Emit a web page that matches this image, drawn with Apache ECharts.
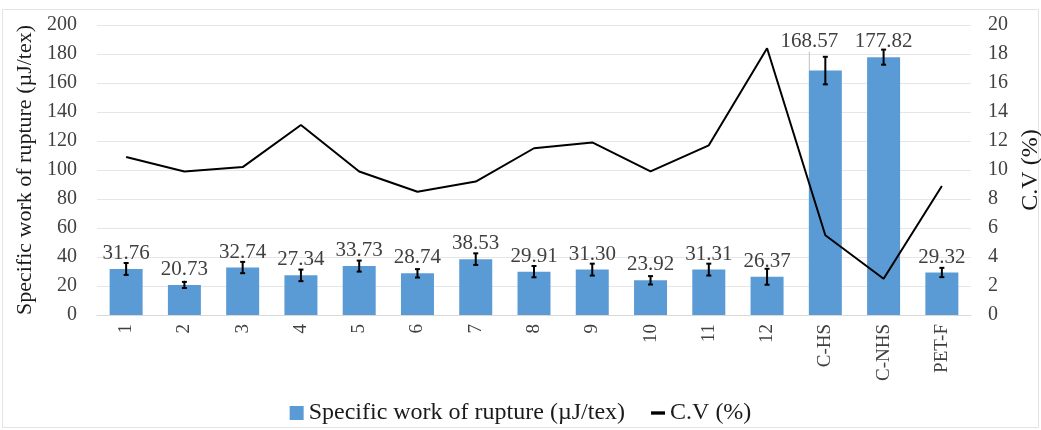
<!DOCTYPE html>
<html>
<head>
<meta charset="utf-8">
<script src="https://cdn.jsdelivr.net/npm/echarts@6/dist/echarts.min.js"></script>
<style>
  html, body { margin: 0; padding: 0; background: #ffffff; }
  #chart { width: 1041px; height: 430px; }
</style>
</head>
<body>
<div id="chart"></div>
<script>
// Samples along the x axis
const categories = ['1', '2', '3', '4', '5', '6', '7', '8', '9', '10', '11', '12', 'C-HS', 'C-NHS', 'PET-F'];
// Specific work of rupture (µJ/tex), mean values
const workOfRupture = [31.76, 20.73, 32.74, 27.34, 33.73, 28.74, 38.53, 29.91, 31.30, 23.92, 31.31, 26.37, 168.57, 177.82, 29.32];
// Standard deviation shown as error bars (µJ/tex)
const workError = [4.1, 2.1, 3.9, 4.0, 3.8, 2.9, 4.0, 3.9, 4.1, 2.9, 4.1, 5.5, 9.5, 5.2, 3.2];
// Coefficient of variation (%)
const cv = [10.9, 9.9, 10.2, 13.1, 9.9, 8.5, 9.2, 11.5, 11.9, 9.9, 11.7, 18.4, 5.5, 2.5, 8.9];
// Axis ticks
const leftTicks = { min: 0, max: 200, interval: 20 };
const rightTicks = { min: 0, max: 20, interval: 2 };

const FONT = '"Liberation Serif", "Times New Roman", serif';
const TEXT = '#404040';

const errorData = workOfRupture.map((v, i) => [i, v - workError[i], v + workError[i]]);

const chart = echarts.init(document.getElementById('chart'), null, { renderer: 'canvas' });

chart.setOption({
  backgroundColor: '#ffffff',
  animation: false,
  textStyle: { fontFamily: FONT },
  graphic: [{
    type: 'rect',
    shape: { x: 2.5, y: 9.5, width: 1036, height: 418 },
    style: { fill: 'none', stroke: '#e3e3e3', lineWidth: 1 },
    silent: true
  }],
  grid: { left: 97, right: 70, top: 25, bottom: 115, outerBoundsMode: 'none', containLabel: false },
  legend: {
    bottom: 0,
    left: 'center',
    itemGap: 26,
    textStyle: { fontFamily: FONT, fontSize: 24, color: '#1a1a1a' },
    data: [
      { name: 'Specific work of rupture (µJ/tex)', icon: 'rect', itemStyle: { color: '#5b9bd5' } },
      { name: 'C.V (%)', icon: 'path://M0,0 L10,0 L10,2.4 L0,2.4 Z', itemStyle: { color: '#000000' } }
    ],
    itemWidth: 14,
    itemHeight: 14
  },
  xAxis: {
    type: 'category',
    data: categories,
    axisLine: { lineStyle: { color: '#d9d9d9', width: 1 } },
    axisTick: { show: false },
    axisLabel: {
      rotate: 90,
      fontFamily: FONT,
      fontSize: 19,
      color: TEXT,
      margin: 9,
      interval: 0
    }
  },
  yAxis: [
    {
      type: 'value',
      min: leftTicks.min,
      max: leftTicks.max,
      interval: leftTicks.interval,
      name: 'Specific work of rupture (µJ/tex)',
      nameLocation: 'middle',
      nameRotate: 90,
      nameGap: 54,
      nameTextStyle: { fontFamily: FONT, fontSize: 22, color: '#1a1a1a' },
      axisLine: { show: false },
      axisTick: { show: false },
      axisLabel: { fontFamily: FONT, fontSize: 20, color: TEXT, margin: 20 },
      splitLine: { lineStyle: { color: '#e6e6e6', width: 1 } }
    },
    {
      type: 'value',
      position: 'right',
      min: rightTicks.min,
      max: rightTicks.max,
      interval: rightTicks.interval,
      name: 'C.V (%)',
      nameLocation: 'middle',
      nameRotate: 90,
      nameGap: 44,
      nameTextStyle: { fontFamily: FONT, fontSize: 24, color: '#1a1a1a' },
      axisLine: { show: false },
      axisTick: { show: false },
      axisLabel: { fontFamily: FONT, fontSize: 20, color: TEXT, margin: 17 },
      splitLine: { show: false }
    }
  ],
  series: [
    {
      name: 'Specific work of rupture (µJ/tex)',
      type: 'bar',
      data: workOfRupture,
      barWidth: 33,
      itemStyle: { color: '#5b9bd5' },
      label: {
        show: true,
        position: 'top',
        distance: 5,
        fontFamily: FONT,
        fontSize: 21,
        color: TEXT,
        formatter: p => workOfRupture[p.dataIndex].toFixed(2)
      },
      labelLine: { show: true, lineStyle: { color: '#bfbfbf', width: 1 } },
      labelLayout: function (params) {
        // the C-HS label is pulled up and to the left, clear of its error bar
        if (params.dataIndex === 12) {
          return { dx: -16, dy: -14 };
        }
        return {};
      },
      z: 2
    },
    {
      name: 'error',
      type: 'custom',
      data: errorData,
      encode: { x: 0, y: [1, 2] },
      z: 4,
      renderItem: function (params, api) {
        const i = api.value(0);
        const lo = api.coord([i, api.value(1)]);
        const hi = api.coord([i, api.value(2)]);
        const cap = 2.5;
        const style = { stroke: '#000000', lineWidth: 2 };
        return {
          type: 'group',
          children: [
            { type: 'line', shape: { x1: lo[0], y1: lo[1], x2: hi[0], y2: hi[1] }, style },
            { type: 'line', shape: { x1: hi[0] - cap, y1: hi[1], x2: hi[0] + cap, y2: hi[1] }, style },
            { type: 'line', shape: { x1: lo[0] - cap, y1: lo[1], x2: lo[0] + cap, y2: lo[1] }, style }
          ]
        };
      },
      silent: true
    },
    {
      name: 'C.V (%)',
      type: 'line',
      yAxisIndex: 1,
      data: cv,
      showSymbol: false,
      symbol: 'none',
      lineStyle: { color: '#000000', width: 2 },
      itemStyle: { color: '#000000' },
      z: 5
    }
  ]
});
</script>
</body>
</html>
